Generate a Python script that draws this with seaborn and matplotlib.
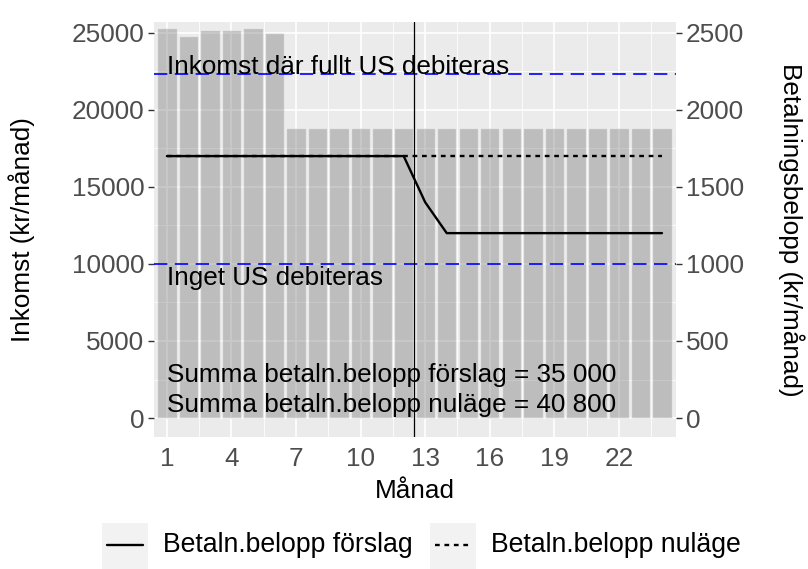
import numpy as np
import pandas as pd
import seaborn as sns
import matplotlib.pyplot as plt
from matplotlib.lines import Line2D
from matplotlib.patches import Rectangle
from matplotlib.ticker import MultipleLocator

# Data
manad = list(range(1, 25))
inkomst = [25300, 24800, 25200, 25150, 25300, 25000] + [18800] * 18
belopp_forslag = [1700] * 12 + [1400] + [1200] * 11
belopp_nulage = [1700] * 24
grans_full = 22300
grans_inget = 10000
skala = 10  # höger axel = vänster / 10

df = pd.DataFrame({
    "Månad": manad,
    "Inkomst": inkomst,
    "forslag": [v * skala for v in belopp_forslag],
    "nulage": [v * skala for v in belopp_nulage],
})

sns.set_theme(style="darkgrid", rc={
    "axes.facecolor": "#EBEBEB",
    "grid.color": "white",
    "figure.facecolor": "white",
    "text.color": "black",
})
plt.rcParams["font.family"] = ["Liberation Sans", "DejaVu Sans"]

fs = 18.8
fig, ax = plt.subplots(figsize=(8.08, 5.69), dpi=100)
fig.subplots_adjust(left=0.1906, right=0.8366, top=0.9613, bottom=0.232)

sns.barplot(data=df, x="Månad", y="Inkomst", native_scale=True, width=0.9,
            color="#7F7F7F", alpha=0.42, saturation=1, ax=ax, zorder=2)
sns.lineplot(data=df, x="Månad", y="nulage", color="black", lw=1.7,
             ax=ax, zorder=3).lines[-1].set_dashes((2, 2))
sns.lineplot(data=df, x="Månad", y="forslag", color="black", lw=1.7, ax=ax, zorder=4)

ax.axhline(grans_full, color="#0000FF", lw=1.2, dashes=(8, 4.5), zorder=5)
ax.axhline(grans_inget, color="#0000FF", lw=1.2, dashes=(8, 4.5), zorder=5)
ax.axvline(12.5, color="black", lw=0.9, zorder=6)

kw = dict(fontsize=fs, ha="left", color="black", zorder=7)
ax.text(1, grans_full, "Inkomst där fullt US debiteras", va="baseline", **kw)
ax.text(1, grans_inget - 150, "Inget US debiteras", va="top", **kw)
ax.text(1, 2800, "Summa betaln.belopp förslag = 35 000", va="center", **kw)
ax.text(1, 850, "Summa betaln.belopp nuläge = 40 800", va="center", **kw)

ax.set_xlim(0.4, 24.65)
ax.set_ylim(-1230, 25700)
ax.set_xticks([1, 4, 7, 10, 13, 16, 19, 22])
ax.set_xticks([2.5, 5.5, 8.5, 11.5, 14.5, 17.5, 20.5, 23.5], minor=True)
ax.yaxis.set_major_locator(MultipleLocator(5000))
ax.set_yticks([2500, 7500, 12500, 17500, 22500], minor=True)
ax.grid(which="major", lw=1.2)
ax.grid(which="minor", lw=0.6, color="white")
ax.set_axisbelow(True)
for s in ax.spines.values():
    s.set_visible(False)
ax.tick_params(axis="both", which="major", length=4, width=1, color="#333333",
               labelcolor="#4D4D4D", labelsize=fs, pad=3)
ax.tick_params(which="minor", length=0)
ax.set_xlabel("Månad", fontsize=fs, color="black", labelpad=6)
ax.set_ylabel("Inkomst (kr/månad)", fontsize=fs, color="black", labelpad=26)

ax2 = ax.twinx()
ax2.set_ylim(np.array(ax.get_ylim()) / skala)
ax2.yaxis.set_major_locator(MultipleLocator(500))
ax2.grid(False)
for s in ax2.spines.values():
    s.set_visible(False)
ax2.tick_params(axis="y", length=4, width=1, color="#333333",
                labelcolor="#4D4D4D", labelsize=fs, pad=3)
ax2.set_ylabel("Betalningsbelopp (kr/månad)", fontsize=fs, color="black",
               rotation=-90, labelpad=44)

# Legend (ggplot-like key boxes)
W, H = 808, 569
for x0, style, label in [(102, "-", "Betaln.belopp förslag"), (430, (2, 2), "Betaln.belopp nuläge")]:
    fig.add_artist(Rectangle((x0 / W, 0), 46 / W, 46 / H, transform=fig.transFigure,
                             facecolor="#F2F2F2", edgecolor="none"))
    ln = Line2D([(x0 + 5) / W, (x0 + 41) / W], [1 - 545 / H] * 2, transform=fig.transFigure,
                color="black", lw=1.7)
    if style != "-":
        ln.set_dashes(style)
    fig.add_artist(ln)
    fig.text((x0 + 61) / W, 1 - 545 / H, label, fontsize=fs + 0.4, va="center", ha="left")

plt.savefig("out.png", dpi=100)
